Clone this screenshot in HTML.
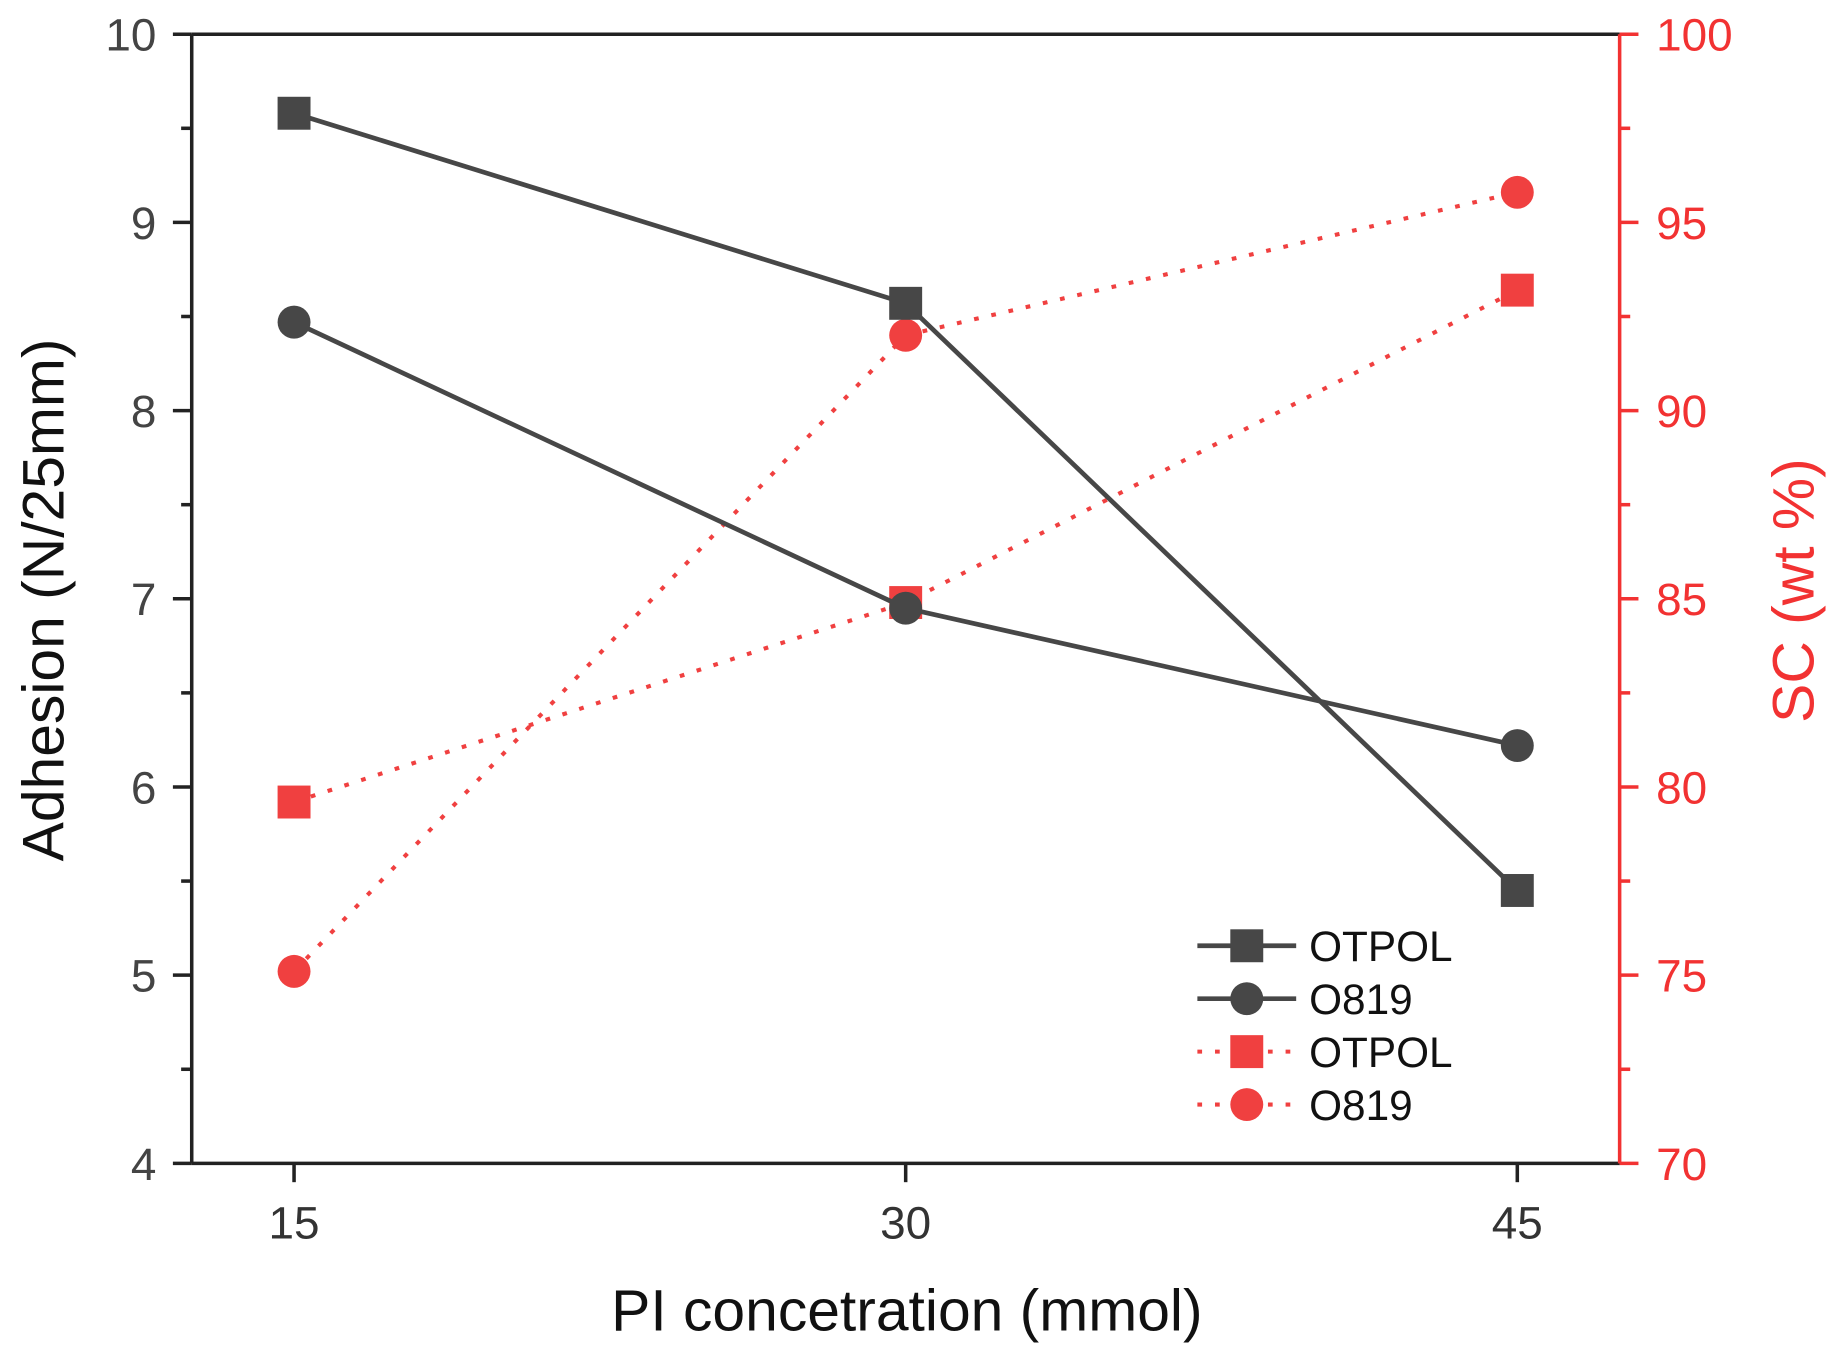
<!DOCTYPE html>
<html><head><meta charset="utf-8"><style>
html,body{margin:0;padding:0;background:#fff;}
svg{display:block;font-family:"Liberation Sans",Arial,sans-serif;}
</style></head><body>
<svg id="chart" width="1829" height="1354" viewBox="0 0 1555 1151" xmlns="http://www.w3.org/2000/svg"></svg>
<script>
const categories=[15,30,45];
const adhesionOTPOL=[9.58,8.57,5.45];
const adhesionO819=[8.47,6.95,6.22];
const scOTPOL=[79.6,84.9,93.2];
const scO819=[75.1,92.0,95.8];
const leftTicks=[4,5,6,7,8,9,10];
const rightTicks=[70,75,80,85,90,95,100];

const L=163,R=1377,T=29,B=989;
const x=v=>250+(v-15)*(520/15);
const yl=v=>B-(v-4)*(B-T)/6;
const yr=v=>B-(v-70)*(B-T)/30;
const svg=document.getElementById('chart');
const NS='http://www.w3.org/2000/svg';
function mk(tag,attrs,parent){const e=document.createElementNS(NS,tag);for(const k in attrs)e.setAttribute(k,attrs[k]);(parent||svg).appendChild(e);return e;}
const gray='#474747',red='#f04040',axRed='#f23232';

let e=mk('line',{x1:L,y1:T,x2:L,y2:B,stroke:'#222','stroke-width':3});

e=mk('line',{x1:L,y1:B,x2:R,y2:B,stroke:'#222','stroke-width':3});

e=mk('line',{x1:L,y1:T,x2:R,y2:T,stroke:'#222','stroke-width':3});

e=mk('line',{x1:R,y1:T,x2:R,y2:B,stroke:axRed,'stroke-width':3});


leftTicks.forEach((v,i)=>{
  mk('line',{x1:L-16,y1:yl(v),x2:L,y2:yl(v),stroke:'#222','stroke-width':3});
  if(i<leftTicks.length-1){mk('line',{x1:L-9,y1:yl(v+0.5),x2:L,y2:yl(v+0.5),stroke:'#222','stroke-width':3});}
  const t=mk('text',{x:L-30,y:yl(v)+14,'text-anchor':'end','font-size':39,fill:'#444'});
  t.textContent=v;
  
});
rightTicks.forEach((v,i)=>{
  mk('line',{x1:R,y1:yr(v),x2:R+16,y2:yr(v),stroke:axRed,'stroke-width':3});
  if(i<rightTicks.length-1){mk('line',{x1:R,y1:yr(v+2.5),x2:R+9,y2:yr(v+2.5),stroke:axRed,'stroke-width':3});}
  const t=mk('text',{x:R+31,y:yr(v)+14,'font-size':39,fill:axRed});
  t.textContent=v;
  
});
categories.forEach(v=>{
  mk('line',{x1:x(v),y1:B,x2:x(v),y2:B+16,stroke:'#222','stroke-width':3});
  const t=mk('text',{x:x(v),y:B+64,'text-anchor':'middle','font-size':39,fill:'#333'});
  t.textContent=v;
  
});
let t=mk('text',{x:771,y:1131,'text-anchor':'middle','font-size':50,fill:'#111'});
t.textContent='PI concetration (mmol)';
t=mk('text',{x:0,y:0,'text-anchor':'middle','font-size':50,fill:'#111',transform:'translate(54,510) rotate(-90)'});
t.textContent='Adhesion (N/25mm)';
t=mk('text',{x:0,y:0,'text-anchor':'middle','font-size':50,fill:axRed,transform:'translate(1542,502) rotate(-90)'});
t.textContent='SC (wt %)';

function series(vals,yf,color,dashed,shape,name){
  const g=mk('g',{});
  
  const pts=vals.map((v,i)=>x(categories[i])+','+yf(v)).join(' ');
  mk('polyline',{points:pts,fill:'none',stroke:color,'stroke-width':dashed?3.5:4,'stroke-dasharray':dashed?'4 11':'none'},g);
  vals.forEach((v,i)=>{
    const cx=x(categories[i]),cy=yf(v);
    let m;
    if(shape==='sq')m=mk('rect',{x:cx-14,y:cy-14,width:28,height:28,fill:color},g);
    else m=mk('circle',{cx:cx,cy:cy,r:14,fill:color},g);
    
  });
}
series(scOTPOL,yr,red,true,'sq','sc-otpol-series');
series(scO819,yr,red,true,'ci','sc-o819-series');
series(adhesionOTPOL,yl,gray,false,'sq','adhesion-otpol-series');
series(adhesionO819,yl,gray,false,'ci','adhesion-o819-series');

const leg=[['OTPOL',gray,false,'sq'],['O819',gray,false,'ci'],['OTPOL',red,true,'sq'],['O819',red,true,'ci']];
leg.forEach((d,i)=>{
  const cy=804+i*45;
  const g=mk('g',{});
  
  mk('line',{x1:1018,y1:cy,x2:1102,y2:cy,stroke:d[1],'stroke-width':d[2]?3.5:4,'stroke-dasharray':d[2]?'4 11':'none'},g);
  if(d[3]==='sq')mk('rect',{x:1046,y:cy-14,width:28,height:28,fill:d[1]},g);
  else mk('circle',{cx:1060,cy:cy,r:14,fill:d[1]},g);
  const tt=mk('text',{x:1113,y:cy+13,'font-size':36,fill:'#111'},g);
  tt.textContent=d[0];
});
</script>
</body></html>
